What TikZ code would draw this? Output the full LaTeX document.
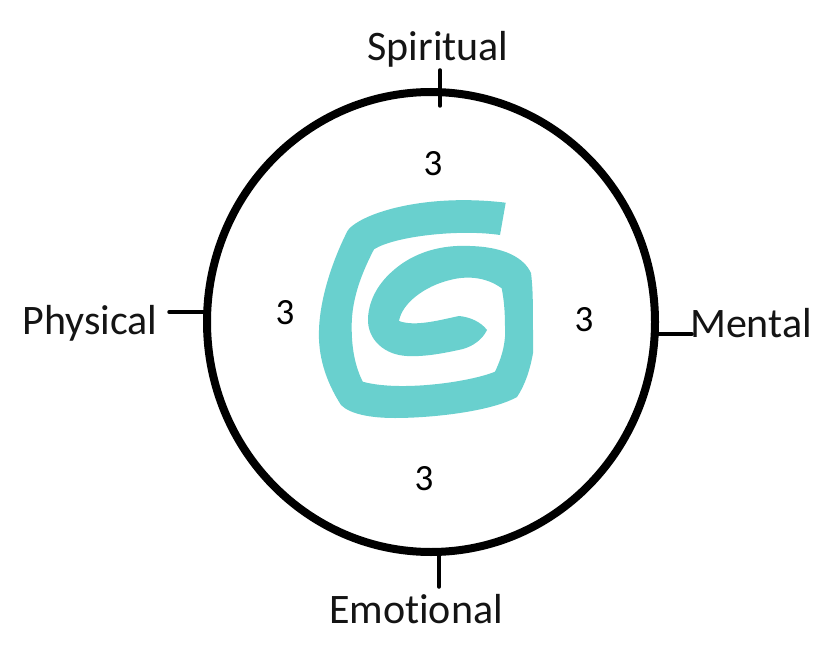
\documentclass[tikz,border=0pt]{standalone}
\usepackage{fontspec}
\usetikzlibrary{shapes.geometric}
\setmainfont[Ligatures=CommonOff]{Carlito}
\definecolor{spiralteal}{HTML}{69D0CE}
\tikzset{
  lbl/.style={inner sep=0pt,font=\fontsize{42}{46}\selectfont,text=black!92},
  num/.style={inner sep=0pt,font=\fontsize{37}{40}\selectfont},
  tick/.style={line width=3.5pt,black,line cap=round},
  ring/.style={line width=8pt,black}
}
\begin{document}
\begin{tikzpicture}[x=1pt,y=-1pt]
\useasboundingbox (0,0) rectangle (826,652);
\fill[white] (0,0) rectangle (826,652);
% spiral
\fill[spiralteal] (505.7,202.7) -- (500,235)
 .. controls (460,229) and (395,236) .. (374,249.3)
 .. controls (358,280) and (351,305) .. (351.7,330)
 .. controls (352,352) and (356,368) .. (362.7,381.7)
 .. controls (400,392) and (470,382) .. (495,371.7)
 .. controls (503,355) and (506,340) .. (505,326.7)
 .. controls (505,312) and (504,300) .. (501.7,288.3)
 .. controls (485,276) and (465,276) .. (450,280)
 .. controls (425,286) and (402,303) .. (399,321)
 .. controls (415,327) and (440,320) .. (459,316)
 .. controls (470,317) and (481,322) .. (487,330)
 .. controls (482,340) and (473,346) .. (463,349)
 .. controls (445,353) and (425,357) .. (407,356)
 .. controls (385,355) and (367,340) .. (368,318)
 .. controls (369,300) and (378,283) .. (395,269)
 .. controls (420,248) and (450,245) .. (470,246)
 .. controls (505,247) and (524,258) .. (531,273)
 .. controls (533,290) and (533,300) .. (533,353)
 .. controls (530,370) and (525,385) .. (517,397)
 .. controls (490,412) and (430,418) .. (395,418)
 .. controls (370,418) and (350,414) .. (341,405)
 .. controls (325,380) and (318,355) .. (319,330)
 .. controls (320,295) and (335,255) .. (348,230)
 .. controls (362,213) and (425,193) .. (505.7,202.7) -- cycle;
% ring
\node[ring,draw,ellipse,minimum width=448pt,minimum height=460pt,inner sep=0pt,outer sep=0pt] (ring) at (431,322) {};
% labels
\node[lbl] (spiritual) at (438,49) {Spiritual};
\node[lbl] (physical) at (90,323) {Physical};
\node[lbl] (mental) at (751,323) {Mental};
\node[lbl] (emotional) at (416,609) {Emotional};
\node[num] (n1) at (433,164) {3};
\node[num] (n2) at (285,313) {3};
\node[num] (n3) at (584,320) {3};
\node[num] (n4) at (424,479) {3};
% ticks
\coordinate (tt) at (440,70);
\coordinate (tb) at (440,106);
\coordinate (lt) at (169,312);
\coordinate (lb) at (207,312);
\coordinate (rt) at (692,334);
\coordinate (rb) at (655,334);
\coordinate (bt) at (439,587);
\coordinate (bb) at (439,552);
\draw[tick] (tt) -- (tb);
\draw[tick] (lt) -- (lb);
\draw[tick] (rt) -- (rb);
\draw[tick] (bt) -- (bb);
\end{tikzpicture}
\end{document}
